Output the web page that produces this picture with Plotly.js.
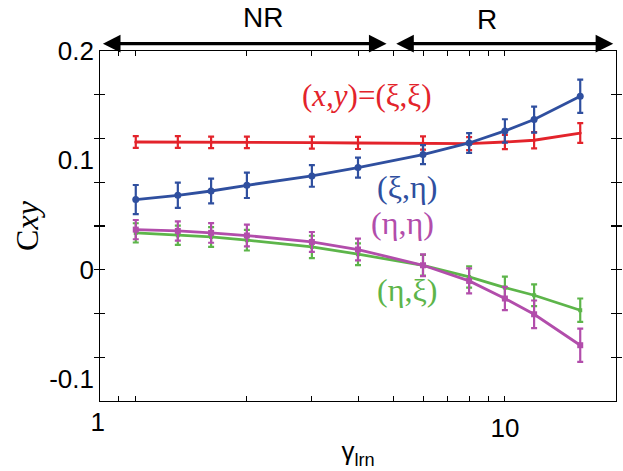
<!DOCTYPE html>
<html>
<head>
<meta charset="utf-8">
<script src="https://cdn.plot.ly/plotly-3.0.1.min.js"></script>
<style>html,body{margin:0;padding:0;background:#fff;}#chart{width:623px;height:471px;}</style>
</head>
<body>
<div id="chart"></div>
<script>
// ---- data ----
const gamma = [1, 1.3, 1.6, 2, 3, 4, 6, 8, 10, 12, 16];

const cXiXi   = [0.1168, 0.1168, 0.1165, 0.1165, 0.1163, 0.1159, 0.1159, 0.1153, 0.1168, 0.1184, 0.1250];
const cXiXiErr= [0.0053, 0.0053, 0.0053, 0.0053, 0.0055, 0.0055, 0.0060, 0.0060, 0.0065, 0.0075, 0.0090];

const cXiEta   = [0.0642, 0.0681, 0.0720, 0.0772, 0.0858, 0.0934, 0.1053, 0.1159, 0.1269, 0.1373, 0.1586];
const cXiEtaErr= [0.0133, 0.0116, 0.0114, 0.0116, 0.0099, 0.0091, 0.0087, 0.0091, 0.0107, 0.0119, 0.0152];

const cEtaEta   = [0.0367, 0.0355, 0.0337, 0.0313, 0.0254, 0.0185, 0.0041, -0.0102, -0.0263, -0.0407, -0.0690];
const cEtaEtaErr= [0.0088, 0.0088, 0.0090, 0.0099, 0.0091, 0.0099, 0.0099, 0.0114, 0.0107, 0.0126, 0.0152];

const cEtaXi   = [0.0337, 0.0315, 0.0300, 0.0270, 0.0209, 0.0142, 0.0041, -0.0066, -0.0163, -0.0233, -0.0370];
const cEtaXiErr= [0.0088, 0.0088, 0.0090, 0.0094, 0.0102, 0.0099, 0.0095, 0.0098, 0.0100, 0.0100, 0.0107];

const seriesLabels = ['(<i>x,y</i>)=(ξ,ξ)', '(ξ,η)', '(η,η)', '(η,ξ)'];

// regimes along the top
const regimeNames = ['NR', 'R'];
const regimeStart = [0.807, 5.03];
const regimeEnd   = [4.78, 19.66];

// axis ticks / labels
const xRange = [0.8, 20];
const yRange = [-0.12, 0.2];
const xMajorTicks = [1, 10];
const xMajorText  = ['', '10'];
const xMinorTicks = [0.9, 2, 3, 4, 5, 6, 7, 8, 9];
const xFirstLabelVal = [1];
const xFirstLabelText = ['1'];
const yLabelVals = [-0.1, 0, 0.1, 0.2];
const yLabelText = ['-0.1', '0', '0.1', '0.2'];
const yTickStep = 0.04;

// ---- styling ----
const colors = {red: '#e3232b', blue: '#2f4f9f', purple: '#b24dab', green: '#5db54a'};

function series(y, err, color, symbol, msize, name) {
  return {
    x: gamma, y: y, name: name, type: 'scatter', mode: 'lines+markers',
    line: {color: color, width: 2.8},
    marker: {color: color, symbol: symbol, size: msize},
    error_y: {type: 'data', array: err, visible: true, color: color, thickness: 2.2, width: 3},
    showlegend: false, hoverinfo: 'skip'
  };
}

const traces = [
  series(cEtaXi, cEtaXiErr, colors.green, 'square', 4, '(η,ξ)'),
  series(cEtaEta, cEtaEtaErr, colors.purple, 'square', 6, '(η,η)'),
  series(cXiXi, cXiXiErr, colors.red, 'circle', 3, '(ξ,ξ)'),
  series(cXiEta, cXiEtaErr, colors.blue, 'circle', 7, '(ξ,η)'),
  // empty helper traces so the overlay axes (labels) get drawn
  {x: [], y: [], xaxis: 'x', yaxis: 'y2', type: 'scatter', mode: 'markers', showlegend: false, hoverinfo: 'skip'},
  {x: [], y: [], xaxis: 'x3', yaxis: 'y', type: 'scatter', mode: 'markers', showlegend: false, hoverinfo: 'skip'}
];

const lx = v => Math.log10(v);
const sans = 'Liberation Sans, Arial, sans-serif';
const serif = 'Liberation Serif, Times New Roman, serif';
const tickFont = {family: sans, size: 26, color: '#000'};

const annotations = [
  {text: seriesLabels[0], xref: 'paper', yref: 'paper', x: 0.516, y: 0.873, xanchor: 'center', yanchor: 'middle',
   showarrow: false, font: {family: serif, size: 31, color: colors.red}},
  {text: seriesLabels[1], xref: 'paper', yref: 'paper', x: 0.595, y: 0.611, xanchor: 'center', yanchor: 'middle',
   showarrow: false, font: {family: serif, size: 32, color: colors.blue}},
  {text: seriesLabels[2], xref: 'paper', yref: 'paper', x: 0.587, y: 0.508, xanchor: 'center', yanchor: 'middle',
   showarrow: false, font: {family: serif, size: 32, color: colors.purple}},
  {text: seriesLabels[3], xref: 'paper', yref: 'paper', x: 0.594, y: 0.316, xanchor: 'center', yanchor: 'middle',
   showarrow: false, font: {family: serif, size: 32, color: colors.green}}
];

const labelPos = [[0.315, 1.095], [0.75, 1.09]];
for (let i = 0; i < regimeNames.length; i++) {
  annotations.push({
    text: '', xref: 'x', yref: 'paper', x: lx(regimeEnd[i]), y: 1.021,
    axref: 'x', ayref: 'pixel', ax: lx(regimeStart[i]), ay: 0,
    showarrow: true, arrowhead: 2, arrowside: 'end+start', arrowsize: 1.1, arrowwidth: 3.2,
    arrowcolor: '#000', standoff: 0, startstandoff: 0
  });
  annotations.push({
    text: regimeNames[i], xref: 'paper', yref: 'paper', x: labelPos[i][0], y: labelPos[i][1],
    xanchor: 'center', yanchor: 'middle',
    showarrow: false, font: {family: sans, size: 28, color: '#000'}
  });
}

const layout = {
  width: 623, height: 471,
  margin: {l: 100, r: 7, t: 51, b: 70},
  paper_bgcolor: '#fff', plot_bgcolor: '#fff',
  showlegend: false,
  xaxis: {
    type: 'log', range: [lx(xRange[0]), lx(xRange[1])],
    tickmode: 'array', tickvals: xMajorTicks, ticktext: xMajorText,
    ticks: 'inside', ticklen: 5, tickwidth: 1, tickcolor: '#000',
    minor: {tickmode: 'array', tickvals: xMinorTicks, ticks: 'inside', ticklen: 3, tickwidth: 1, tickcolor: '#000', showgrid: false},
    showline: true, linecolor: '#000', linewidth: 1.3, mirror: 'allticks',
    showgrid: false, zeroline: false, tickfont: tickFont, ticklabelstandoff: 3,
    title: {text: 'γ<sub>lrn</sub>', font: {family: sans, size: 26, color: '#000'}, standoff: 0}
  },
  xaxis3: {
    type: 'log', range: [lx(xRange[0]), lx(xRange[1])], overlaying: 'x', anchor: 'y', side: 'bottom',
    tickmode: 'array', tickvals: xFirstLabelVal, ticktext: xFirstLabelText, ticks: '',
    ticklabelshift: -38, ticklabelstandoff: 3,
    showline: false, showgrid: false, zeroline: false, tickfont: tickFont
  },
  // main y axis: box line and tick marks only
  yaxis: {
    range: yRange, tickmode: 'linear', tick0: 0, dtick: yTickStep,
    ticks: 'inside', ticklen: 5, tickwidth: 1.2, tickcolor: '#000', showticklabels: false,
    showline: true, linecolor: '#000', linewidth: 1.3, mirror: 'allticks',
    showgrid: false, zeroline: false
  },
  // overlay y axis: the numeric labels and the title
  yaxis2: {
    range: yRange, overlaying: 'y', anchor: 'x', side: 'left',
    tickmode: 'array', tickvals: yLabelVals, ticktext: yLabelText, ticks: '',
    showline: false, showgrid: false, zeroline: false, tickfont: tickFont, ticklabelstandoff: 5,
    title: {text: 'C<i>xy</i>', font: {family: serif, size: 32, color: '#000'}, standoff: 0}
  },
  annotations: annotations
};

Plotly.newPlot('chart', traces, layout, {staticPlot: true, displayModeBar: false});
</script>
</body>
</html>
